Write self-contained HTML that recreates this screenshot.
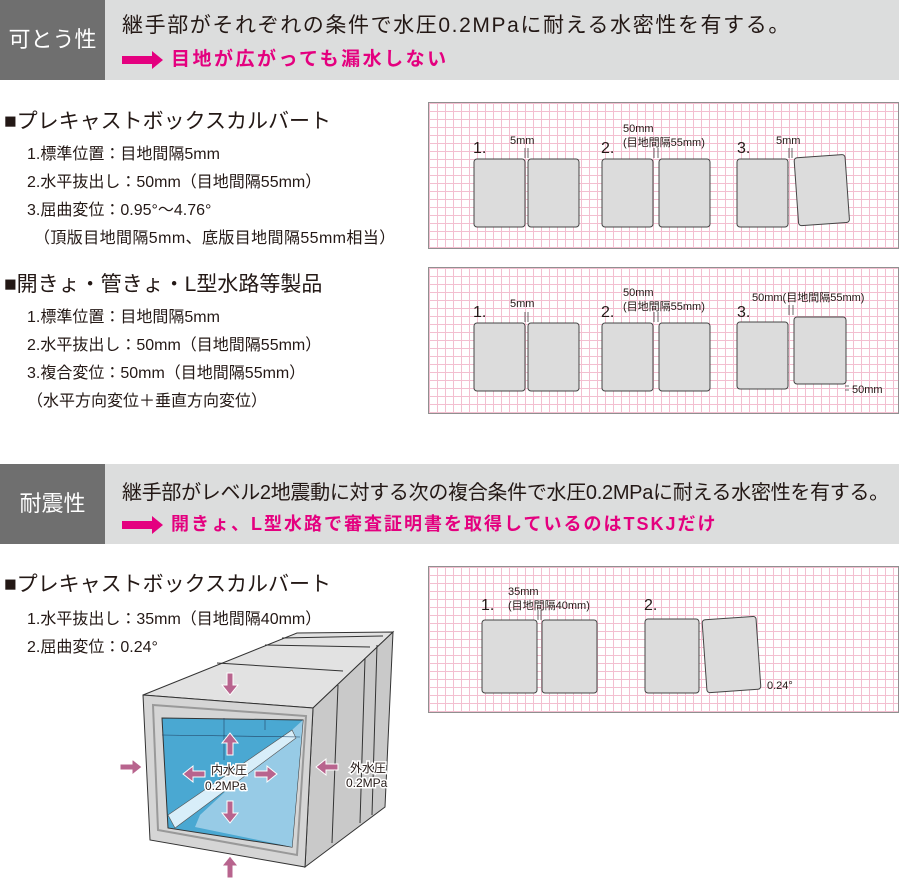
<!DOCTYPE html>
<html><head><meta charset="utf-8"><style>
body{margin:0;width:899px;height:882px;background:#fff;position:relative;overflow:hidden;font-family:"Liberation Sans","Noto Sans CJK JP",sans-serif;color:#231815}
.a{position:absolute;white-space:nowrap}
.hd{position:absolute;left:0;width:899px;height:80px;background:#dcdddd}
.hd .k{position:absolute;left:0;top:0;width:105px;height:80px;background:#6f6f6f;color:#fff;font-size:22px;line-height:80px;text-align:center}
.t1{font-size:20px}
.pk{color:#e4007f;font-size:18px;font-weight:bold}
.ti{font-size:21px}
.ln{font-size:16px}
.pn{position:absolute;left:428px;width:469px;border:1px solid #909090;background-color:#fff;
background-image:linear-gradient(#f3bfd0 1px,transparent 1px),linear-gradient(90deg,#f3bfd0 1px,transparent 1px);background-size:8px 8px}
</style></head><body>
<div class="hd" style="top:0"><div class="k">可とう性</div>
<div class="a t1" style="left:122px;top:9px;font-size:21px;letter-spacing:1.6px">継手部がそれぞれの条件で水圧0.2MPaに耐える水密性を有する。</div>
<div class="a pk" style="left:122px;top:44px"><span style="display:inline-block;width:30px;height:8px;background:#e4007f;vertical-align:middle"></span><span style="display:inline-block;width:0;height:0;border-left:11px solid #e4007f;border-top:9px solid transparent;border-bottom:9px solid transparent;vertical-align:middle;margin-right:8px"></span><span style="font-size:19px;letter-spacing:2.5px">目地が広がっても漏水しない</span></div></div>

<div class="a ti" style="left:4px;top:105px">■プレキャストボックスカルバート</div>
<div class="a ln" style="left:27px;top:140px">1.標準位置：目地間隔5mm</div>
<div class="a ln" style="left:27px;top:168px">2.水平抜出し：50mm（目地間隔55mm）</div>
<div class="a ln" style="left:27px;top:196px">3.屈曲変位：0.95°～4.76°</div>
<div class="a ln" style="left:34px;top:224px;letter-spacing:0.4px">（頂版目地間隔5mm、底版目地間隔55mm相当）</div>
<div class="a ti" style="left:4px;top:268px">■開きょ・管きょ・L型水路等製品</div>
<div class="a ln" style="left:27px;top:303px">1.標準位置：目地間隔5mm</div>
<div class="a ln" style="left:27px;top:331px">2.水平抜出し：50mm（目地間隔55mm）</div>
<div class="a ln" style="left:27px;top:359px">3.複合変位：50mm（目地間隔55mm）</div>
<div class="a ln" style="left:27px;top:387px">（水平方向変位＋垂直方向変位）</div>

<div class="pn" style="top:102px;height:145px"></div>
<div class="pn" style="top:267px;height:145px"></div>
<div class="pn" style="top:566px;height:145px"></div>

<div class="hd" style="top:464px"><div class="k">耐震性</div>
<div class="a t1" style="left:122px;top:12px;letter-spacing:-0.3px">継手部がレベル2地震動に対する次の複合条件で水圧0.2MPaに耐える水密性を有する。</div>
<div class="a pk" style="left:122px;top:46px"><span style="display:inline-block;width:30px;height:8px;background:#e4007f;vertical-align:middle"></span><span style="display:inline-block;width:0;height:0;border-left:11px solid #e4007f;border-top:9px solid transparent;border-bottom:9px solid transparent;vertical-align:middle;margin-right:8px"></span><span style="letter-spacing:2px">開きょ、L型水路で審査証明書を取得しているのはTSKJだけ</span></div></div>

<div class="a ti" style="left:4px;top:568px">■プレキャストボックスカルバート</div>
<div class="a ln" style="left:27px;top:605px">1.水平抜出し：35mm（目地間隔40mm）</div>
<div class="a ln" style="left:27px;top:633px">2.屈曲変位：0.24°</div>

<svg class="a" style="left:0;top:0" width="899" height="882" font-family="Liberation Sans, Noto Sans CJK JP, sans-serif">
<g fill="#dcdcdc" stroke="#444" stroke-width="1">
<rect x="474" y="159" width="51" height="68" rx="3"/><rect x="528" y="159" width="51" height="68" rx="3"/>
<rect x="602" y="159" width="51" height="68" rx="3"/><rect x="659" y="159" width="51" height="68" rx="3"/>
<rect x="737" y="159" width="51" height="68" rx="3"/><rect x="794" y="158" width="51" height="68" rx="3" transform="rotate(-4 794 158)"/>
<rect x="474" y="323" width="51" height="68" rx="3"/><rect x="528" y="323" width="51" height="68" rx="3"/>
<rect x="602" y="323" width="51" height="68" rx="3"/><rect x="659" y="323" width="51" height="68" rx="3"/>
<rect x="737" y="322" width="51" height="67" rx="3"/><rect x="794" y="317" width="52" height="67" rx="3"/>
<rect x="482" y="620" width="55" height="73" rx="3"/><rect x="542" y="620" width="55" height="73" rx="3"/>
<rect x="645" y="619" width="54" height="74" rx="3"/><rect x="702" y="620" width="54" height="73" rx="3" transform="rotate(-4 702 620)"/>
</g>
<g stroke="#444" stroke-width="0.8">
<path d="M525 148v10M528 148v10M654 148v10M658 148v10M789 148v10M792 148v10M525 312v10M528 312v10M654 312v10M658 312v10M789 305v10M793 305v10M538 610v10M541 610v10M845 386h4M845 390h4"/>
</g>
<g fill="#231815" font-size="11">
<text x="473" y="153" font-size="16">1.</text><text x="510" y="144">5mm</text>
<text x="601" y="153" font-size="16">2.</text><text x="623" y="132">50mm</text><text x="623" y="146">(目地間隔55mm)</text>
<text x="737" y="153" font-size="16">3.</text><text x="776" y="144">5mm</text>
<text x="473" y="317" font-size="16">1.</text><text x="510" y="307">5mm</text>
<text x="601" y="317" font-size="16">2.</text><text x="623" y="296">50mm</text><text x="623" y="310">(目地間隔55mm)</text>
<text x="737" y="317" font-size="16">3.</text><text x="752" y="301">50mm(目地間隔55mm)</text><text x="852" y="393">50mm</text>
<text x="481" y="610" font-size="16">1.</text><text x="508" y="595">35mm</text><text x="508" y="609">(目地間隔40mm)</text>
<text x="644" y="610" font-size="16">2.</text><text x="767" y="689">0.24°</text>
</g>
<g stroke="#333" stroke-width="1">
<polygon points="143,695 297,633 393,632 313,708" fill="#e2e2e2"/>
<polygon points="313,708 393,632 385,807 305,867" fill="#c9c9c9"/>
<polygon points="143,695 313,708 305,867 150,840" fill="#d5d5d5"/>
<path d="M217,663 L343,671 M265,645 L370,647 M282,638 L383,636" fill="none"/>
<path d="M338,685 L332,843 M365,658 L360,823 M377,645 L372,815" fill="none"/>
<polygon points="153,705 306,716 297,855 158,830" fill="none" stroke="#999" stroke-width="2"/>
<polygon points="162,718 303,720 292,847 168,828" fill="#4aa8d2"/>
<polygon points="292,730 303,720 292,847 195,827 200,815" fill="#97cbe6" stroke="none"/>
<polygon points="168,815 292,730 296,738 175,828" fill="#d8eef9" stroke="#555" stroke-width="0.6"/>
<path d="M224,718 L224,760 M265,719 L265,730 M162,735 L300,737" stroke="#246" stroke-width="0.6" fill="none"/>
</g>
<g fill="#b8648e" stroke="#fff" stroke-width="1">
<path d="M227,673h6v12h5l-8,10l-8,-10h5z"/>
<path d="M227,878h6v-12h5l-8,-10l-8,10h5z"/>
<path d="M120,764v6h12v5l10,-8l-10,-8v5z"/>
<path d="M338,764v6h-12v5l-10,-8l10,-8v5z"/>
<path d="M227,755h6v-12h5l-8,-10l-8,10h5z"/>
<path d="M227,801h6v12h5l-8,10l-8,-10h5z"/>
<path d="M205,771v6h-12v5l-10,-8l10,-8v5z"/>
<path d="M255,771v6h12v5l10,-8l-10,-8v5z"/>
</g>
<g font-size="12" fill="#231815" stroke="#fff" stroke-width="3" paint-order="stroke">
<text x="211" y="774">内水圧</text><text x="205" y="790">0.2MPa</text>
<text x="350" y="772">外水圧</text><text x="346" y="787">0.2MPa</text>
</g>
</svg>
</body></html>
